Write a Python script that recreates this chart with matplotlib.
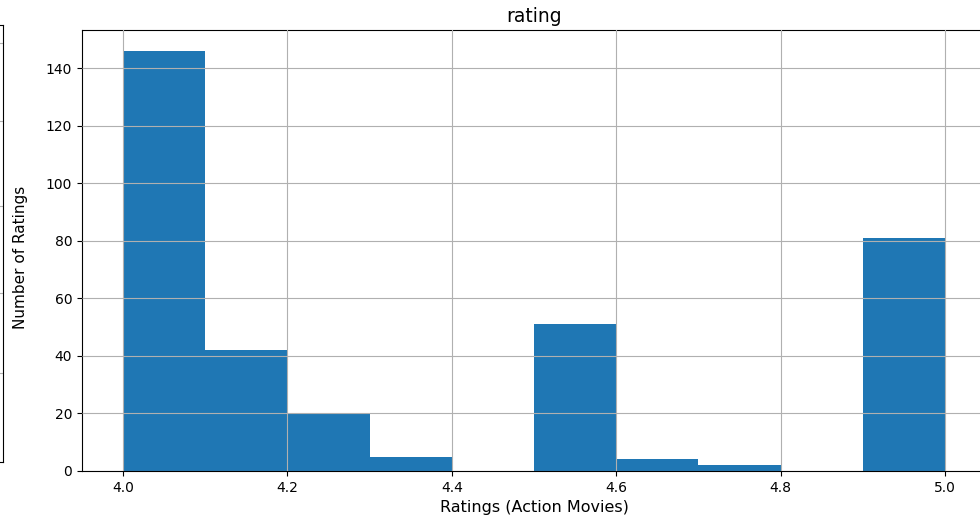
import numpy as np
import matplotlib
matplotlib.use("Agg")
import matplotlib.pyplot as plt

# histogram of action-movie ratings (10 bins, 4.0 .. 5.0)
bin_edges = [4.0, 4.1, 4.2, 4.3, 4.4, 4.5, 4.6, 4.7, 4.8, 4.9, 5.0]
counts = [146, 42, 20, 5, 0, 51, 4, 2, 0, 81]
x_ticks = [4.0, 4.2, 4.4, 4.6, 4.8, 5.0]

W, H = 980, 522
fig = plt.figure(figsize=(W / 100, H / 100), dpi=100)

# edge of the neighbouring subplot, cut off on the left
ax0 = fig.add_axes([-0.3, 1 - 462 / H, 0.3 + 3 / W, (462 - 25) / H])
ax0.set_ylim(0, 1)
ax0.set_xlim(0, 1)
ax0.set_yticks([1 - (y - 25) / (462 - 25) for y in [43, 121, 206, 293, 373]])
ax0.set_xticks([])
ax0.tick_params(length=0, labelleft=False)
ax0.grid(True, color="#b0b0b0")

# main histogram (the right edge runs past the picture)
ax = fig.add_axes([82 / W, 1 - 471 / H, (986 - 82) / W, (471 - 30) / H])
centers = [(a + b) / 2 for a, b in zip(bin_edges[:-1], bin_edges[1:])]
ax.hist(centers, bins=bin_edges, weights=counts, color="#1f77b4")
ax.set_axisbelow(False)
ax.grid(True, color="#b0b0b0", linewidth=0.8)
ax.set_xticks(x_ticks)
ax.set_title("rating", fontsize=13.5)
ax.set_xlabel("Ratings (Action Movies)", fontsize=11.5)
ax.set_ylabel("Number of Ratings", fontsize=11)
ax.yaxis.set_label_coords(-0.06, 0.485)

fig.savefig("out.png", dpi=100)
